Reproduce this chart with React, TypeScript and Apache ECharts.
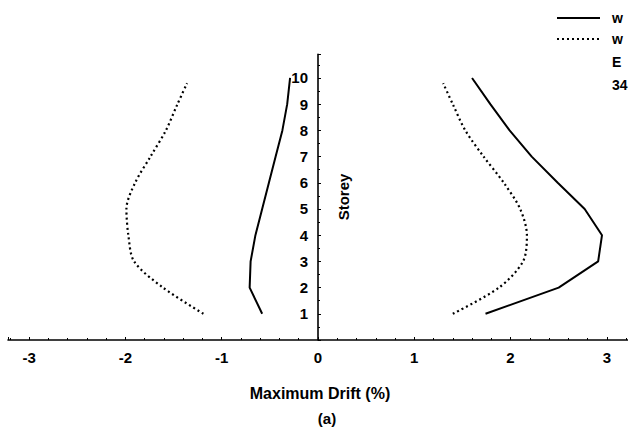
import React, { useEffect, useRef } from "react";
import * as echarts from "echarts";

// Storey levels
const storeys = [1, 2, 3, 4, 5, 6, 7, 8, 9, 10];
const dottedStoreys = [1, 2, 3, 4, 5, 6, 7, 8, 9, 9.8];

// Maximum drift (%)
const solidPositive = [1.74, 2.5, 2.91, 2.95, 2.77, 2.49, 2.22, 1.99, 1.79, 1.6];
const solidNegative = [-0.58, -0.71, -0.7, -0.65, -0.58, -0.51, -0.44, -0.37, -0.32, -0.29];
const dottedPositive = [1.4, 1.88, 2.13, 2.17, 2.1, 1.93, 1.72, 1.53, 1.4, 1.3];
const dottedNegative = [-1.19, -1.61, -1.91, -1.97, -1.99, -1.9, -1.74, -1.58, -1.46, -1.36];

const xTickLabels = ["-3", "-2", "-1", "0", "1", "2", "3"];
const xTitle = "Maximum Drift (%)";
const caption = "(a)";
const yTitle = "Storey";
const legendTexts = ["w", "w", "E", "34"];

const FONT = "'Liberation Sans', Arial, sans-serif";

function pairs(xs: number[], ys: number[]) {
  return xs.map((x, i) => [x, ys[i]]);
}

export default function App() {
  const ref = useRef<HTMLDivElement>(null);
  useEffect(() => {
    if (!ref.current) return;
    const chart = echarts.init(ref.current, undefined, { renderer: "svg" });
    const solidStyle = { color: "#000", width: 2, type: "solid" as const };
    const dottedStyle = { color: "#000", width: 2.2, type: [2, 3] as any, cap: "butt" as const };
    chart.setOption({
      animation: false,
      backgroundColor: "#fff",
      grid: {
        left: 8,
        right: 0,
        top: 54.4,
        bottom: 91,
        containLabel: false,
        outerBoundsMode: "none",
      },
      xAxis: {
        type: "value",
        min: -3.22,
        max: 3.22,
        splitNumber: 6,
        axisLine: { show: true, onZero: true, lineStyle: { color: "#000", width: 1.6 } },
        axisTick: { show: true, inside: true, length: 3, lineStyle: { color: "#000" } },
        minorTick: { show: true, splitNumber: 5, length: 2, lineStyle: { color: "#000" } },
        splitLine: { show: false },
        axisLabel: {
          show: true,
          margin: 10,
          showMinLabel: false,
          showMaxLabel: false,
          color: "#000",
          fontFamily: FONT,
          fontWeight: "bold",
          fontSize: 15,
          formatter: (v: number) => {
            const s = String(Math.round(v));
            return Math.abs(v - Math.round(v)) < 1e-6 && xTickLabels.includes(s) ? s : "";
          },
        },
      },
      yAxis: {
        type: "value",
        min: 0,
        max: 10.9,
        interval: 1,
        position: "left",
        offset: -310,
        axisLine: { show: true, onZero: false, lineStyle: { color: "#000", width: 1.6 } },
        axisTick: { show: true, inside: true, length: 3, lineStyle: { color: "#000" } },
        minorTick: { show: true, splitNumber: 2, length: 2, lineStyle: { color: "#000" } },
        splitLine: { show: false },
        axisLabel: {
          show: true,
          margin: 10,
          showMaxLabel: false,
          color: "#000",
          fontFamily: FONT,
          fontWeight: "bold",
          fontSize: 15,
          formatter: (v: number) => (v >= 1 && v <= 10 && Number.isInteger(v) ? String(v) : ""),
        },
      },
      series: [
        {
          type: "line",
          data: pairs(solidPositive, storeys),
          showSymbol: false,
          lineStyle: solidStyle,
          smooth: false,
        },
        {
          type: "line",
          data: pairs(solidNegative, storeys),
          showSymbol: false,
          lineStyle: solidStyle,
          smooth: false,
        },
        {
          type: "line",
          data: pairs(dottedPositive, dottedStoreys),
          showSymbol: false,
          lineStyle: dottedStyle,
          smooth: 0.3,
        },
        {
          type: "line",
          data: pairs(dottedNegative, dottedStoreys),
          showSymbol: false,
          lineStyle: dottedStyle,
          smooth: 0.3,
        },
      ],
      graphic: [
        {
          type: "text",
          x: 320,
          y: 393,
          style: {
            text: xTitle,
            fill: "#000",
            font: `bold 16px ${FONT}`,
            textAlign: "center",
            textVerticalAlign: "middle",
          },
        },
        {
          type: "text",
          x: 327,
          y: 418,
          style: {
            text: caption,
            fill: "#000",
            font: `bold 15px ${FONT}`,
            textAlign: "center",
            textVerticalAlign: "middle",
          },
        },
        {
          type: "text",
          x: 343,
          y: 197,
          rotation: Math.PI / 2,
          style: {
            text: yTitle,
            fill: "#000",
            font: `bold 15px ${FONT}`,
            textAlign: "center",
            textVerticalAlign: "middle",
          },
        },
        {
          type: "line",
          shape: { x1: 557, y1: 18, x2: 600, y2: 18 },
          style: { stroke: "#000", lineWidth: 2 },
        },
        {
          type: "line",
          shape: { x1: 557, y1: 39, x2: 600, y2: 39 },
          style: { stroke: "#000", lineWidth: 2.2, lineDash: [2, 3] },
        },
        ...legendTexts.map((t, i) => ({
          type: "text",
          x: 612,
          y: [18, 39, 62, 85][i],
          style: {
            text: t,
            fill: "#000",
            font: `bold 14px ${FONT}`,
            textAlign: "left",
            textVerticalAlign: "middle",
          },
        })),
      ],
    });
    return () => chart.dispose();
  }, []);
  return (
    <div
      ref={ref}
      style={{ position: "absolute", left: 0, top: 0, width: 628, height: 431, background: "#fff" }}
    />
  );
}
